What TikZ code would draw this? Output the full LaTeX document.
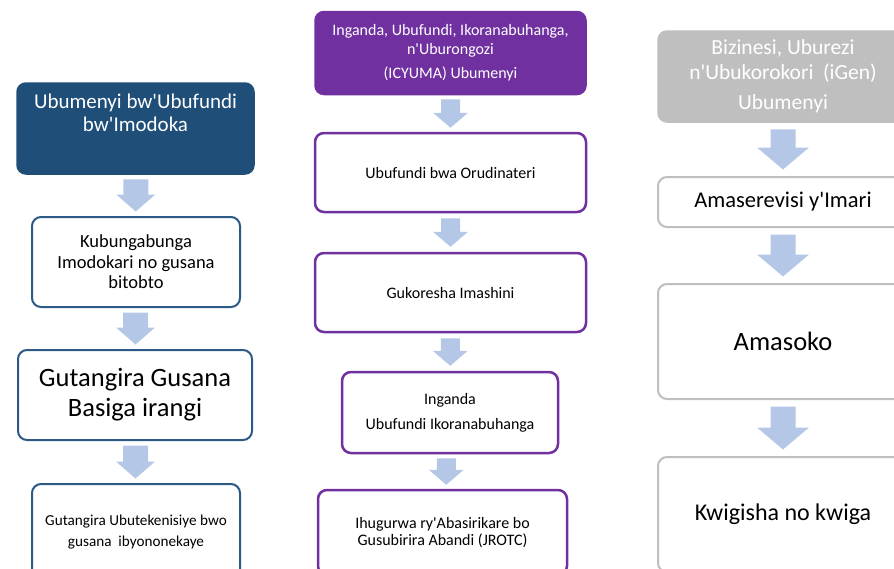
\documentclass[tikz,border=0pt]{standalone}
\usepackage{fontspec}
\setmainfont{Carlito}[Ligatures=TeXOff]
\usetikzlibrary{positioning,calc}

\definecolor{carblue}{HTML}{1F4E79}
\definecolor{carline}{HTML}{2C5985}
\definecolor{icypurple}{HTML}{7030A0}
\definecolor{gengray}{HTML}{BFBFBF}
\definecolor{arrowfill}{HTML}{B4C7E7}

\tikzset{
  box/.style={rectangle, rounded corners=9pt, inner sep=0pt, align=center},
  carhead/.style={box, fill=carblue, draw=carblue, line width=1.5pt},
  carbox/.style={box, draw=carline, fill=white, line width=2pt},
  icyhead/.style={box, fill=icypurple, draw=icypurple, text=white, line width=1.5pt},
  icybox/.style={box, draw=icypurple, fill=white, line width=2.5pt},
  genhead/.style={box, fill=gengray, draw=gengray, text=white, line width=1.5pt},
  genbox/.style={box, draw=gengray, fill=white, line width=2pt},
}

% upper node, lower node, half shaft, half head, head length, gap
\newcommand{\blockarrow}[6]{%
  \fill[arrowfill] let \p1=(#1.south), \p2=(#2.north),
    \n1={(\x1+\x2)/2}, \n2={\y1-#6}, \n3={\y2+#6} in
    ({\n1-#3},{\n2}) -- ({\n1+#3},{\n2}) -- ({\n1+#3},{\n3+#5})
    -- ({\n1+#4},{\n3+#5}) -- ({\n1},{\n3}) -- ({\n1-#4},{\n3+#5})
    -- ({\n1-#3},{\n3+#5}) -- cycle;}

\begin{document}
\begin{tikzpicture}[x=1pt, y=-1pt]
    \clip (0,0) rectangle (894,568);
    % left column
    \node[carhead, minimum width=237pt, minimum height=91pt] (lhead) at (135.5,128.5) {};
    \node[below=8pt of lhead.north, align=center, text=white,
        font=\fontsize{21}{23}\selectfont] (lheadtext) {Ubumenyi bw'Ubufundi\\bw'Imodoka};
    \node[carbox, minimum width=208pt, minimum height=90pt, font=\fontsize{18.5}{20.5}\selectfont]
        (lbox1) at (136,262) {Kubungabunga\\Imodokari no gusana\\bitobto};
    \node[carbox, minimum width=234pt, minimum height=90pt, font=\fontsize{26.5}{30}\selectfont]
        (lbox2) at (135,395) {Gutangira Gusana\\Basiga irangi};
    \node[carbox, minimum width=208pt, minimum height=96pt, font=\fontsize{15.2}{21}\selectfont]
        (lbox3) at (136,532) {Gutangira Ubutekenisiye bwo\\gusana\ \ ibyononekaye};
    \blockarrow{lhead}{lbox1}{12.5pt}{19.5pt}{17pt}{4.5pt}
    \blockarrow{lbox1}{lbox2}{12.5pt}{19.5pt}{17pt}{4.5pt}
    \blockarrow{lbox2}{lbox3}{12.5pt}{19.5pt}{17pt}{4.5pt}
    % middle column
    \node[icyhead, minimum width=271pt, minimum height=83pt, font=\fontsize{16}{18.5}\selectfont]
        (mhead) at (450.5,53) {Inganda, Ubufundi, Ikoranabuhanga,\\n'Uburongozi\\[6pt](ICYUMA) Ubumenyi};
    \node[icybox, minimum width=271pt, minimum height=79pt, font=\fontsize{16}{18}\selectfont]
        (mbox1) at (450.5,172.5) {Ubufundi bwa Orudinateri};
    \node[icybox, minimum width=271pt, minimum height=79pt, font=\fontsize{16}{18}\selectfont]
        (mbox2) at (450.5,292.5) {Gukoresha Imashini};
    \node[icybox, minimum width=216pt, minimum height=81pt, font=\fontsize{16}{18}\selectfont]
        (mbox3) at (450,412.5) {Inganda\\[7pt]Ubufundi Ikoranabuhanga};
    \node[icybox, minimum width=249pt, minimum height=85pt, font=\fontsize{16}{17}\selectfont]
        (mbox4) at (442.5,532.5) {Ihugurwa ry'Abasirikare bo\\Gusubirira Abandi (JROTC)};
    \blockarrow{mhead}{mbox1}{9.5pt}{17.5pt}{15pt}{4pt}
    \blockarrow{mbox1}{mbox2}{9.5pt}{17.5pt}{15pt}{5pt}
    \blockarrow{mbox2}{mbox3}{9.5pt}{17.5pt}{15pt}{5pt}
    \blockarrow{mbox3}{mbox4}{9.5pt}{17.5pt}{15pt}{4pt}
    % right column
    \node[genhead, minimum width=250pt, minimum height=91pt, font=\fontsize{21.5}{24.5}\selectfont]
        (rhead) at (783,76.5) {Bizinesi, Uburezi\\n'Ubukorokori\ \ (iGen)\\[6pt]Ubumenyi};
    \node[genbox, minimum width=250pt, minimum height=50pt, font=\fontsize{22.5}{25}\selectfont]
        (rbox1) at (783,202) {Amaserevisi y'Imari};
    \node[genbox, minimum width=250pt, minimum height=115pt, font=\fontsize{26.5}{30}\selectfont]
        (rbox2) at (783,341.5) {Amasoko};
    \node[genbox, minimum width=250pt, minimum height=115pt, font=\fontsize{24}{27}\selectfont]
        (rbox3) at (783,514.5) {Kwigisha no kwiga};
    \blockarrow{rhead}{rbox1}{12.5pt}{26pt}{22pt}{6.5pt}
    \blockarrow{rbox1}{rbox2}{12.5pt}{26pt}{22pt}{6.5pt}
    \blockarrow{rbox2}{rbox3}{12.5pt}{26pt}{22pt}{6.5pt}
\end{tikzpicture}
\end{document}
